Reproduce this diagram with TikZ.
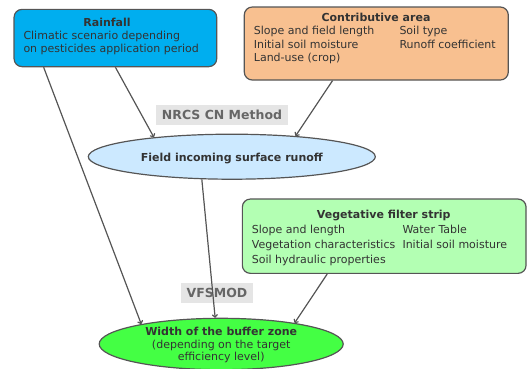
\documentclass[tikz,border=0pt]{standalone}
\usepackage{fontspec}
\setmainfont{DejaVu Sans}
\usetikzlibrary{shapes.geometric,calc,arrows.meta}
\definecolor{rainc}{RGB}{0,174,239}
\definecolor{contc}{RGB}{248,192,144}
\definecolor{vegc}{RGB}{179,255,179}
\definecolor{fieldc}{RGB}{204,233,255}
\definecolor{bufc}{RGB}{68,255,68}
\definecolor{edgec}{RGB}{85,85,85}
\definecolor{txtc}{RGB}{51,51,51}
\definecolor{lblbg}{RGB}{229,229,229}
\definecolor{lbltxt}{RGB}{102,102,102}
\tikzset{
  box/.style={draw=edgec, line width=1.2pt, rounded corners=8pt, inner sep=0pt},
  oval/.style={ellipse, draw=edgec, line width=1.2pt, inner sep=0pt},
  txt/.style={anchor=base west, inner sep=0pt, text=txtc, font=\fontsize{11}{13}\selectfont},
  ttl/.style={anchor=base, inner sep=0pt, text=txtc, font=\fontsize{11}{13}\selectfont\bfseries},
  methodlbl/.style={fill=lblbg, text=lbltxt, font=\fontsize{12.5}{15}\selectfont\bfseries, inner sep=0pt},
  conn/.style={draw=edgec, line width=1.2pt, -{To[length=3.5pt,width=6pt]}}
}
\begin{document}
\begin{tikzpicture}[x=1pt,y=-1pt]
\useasboundingbox (0,0) rectangle (527,368);
% method labels
\node[methodlbl, minimum width=132pt, minimum height=20pt] (nrcs) at (222,115) {};
\node[anchor=base, inner sep=0pt, text=lbltxt, font=\fontsize{12.5}{15}\selectfont\bfseries] (nrcst) at (222,119.5) {NRCS CN Method};
\node[methodlbl, minimum width=72pt, minimum height=20pt] (vfs) at (217,293) {};
\node[anchor=base, inner sep=0pt, text=lbltxt, font=\fontsize{12.5}{15}\selectfont\bfseries] (vfst) at (217,297.5) {VFSMOD};
% Rainfall
\node[box, fill=rainc, minimum width=202.7pt, minimum height=57.3pt] (rain) at (115.4,38) {};
\node[ttl] (raint) at (107,26) {Rainfall};
\node[txt] (rain1) at (23.3,39.3) {Climatic scenario depending};
\node[txt] (rain2) at (23.3,52.6) {on pesticides application period};
% Contributive area
\node[box, fill=contc, minimum width=264pt, minimum height=73pt] (cont) at (376.3,43.5) {};
\node[ttl] (contt) at (376,21) {Contributive area};
\node[txt] (cont1) at (253.7,34.7) {Slope and field length};
\node[txt] (cont2) at (253.7,48) {Initial soil moisture};
\node[txt] (cont3) at (253.7,61.3) {Land-use (crop)};
\node[txt] (cont4) at (399.3,34.7) {Soil type};
\node[txt] (cont5) at (399.3,48) {Runoff coefficient};
% Field ellipse
\node[oval, fill=fieldc, minimum width=287pt, minimum height=45pt] (field) at (231.8,156.7) {};
\node[ttl] (fieldt) at (231.8,161) {Field incoming surface runoff};
% Vegetative filter strip
\node[box, fill=vegc, minimum width=283.7pt, minimum height=74.3pt] (veg) at (384.2,236.2) {};
\node[ttl] (vegt) at (383.8,218) {Vegetative filter strip};
\node[txt] (veg1) at (251.7,233) {Slope and length};
\node[txt] (veg2) at (251.7,248.4) {Vegetation characteristics};
\node[txt] (veg3) at (251.7,263.7) {Soil hydraulic properties};
\node[txt] (veg4) at (402.3,233) {Water Table};
\node[txt] (veg5) at (402.3,248.4) {Initial soil moisture};
% Buffer zone ellipse
\node[oval, fill=bufc, minimum width=244pt, minimum height=51.4pt] (buf) at (221.2,344) {};
\node[ttl] (buft) at (221.2,335) {Width of the buffer zone};
\node[anchor=base, inner sep=0pt, text=txtc, font=\fontsize{11}{13}\selectfont] (buf1) at (221.2,348.3) {(depending on the target};
\node[anchor=base, inner sep=0pt, text=txtc, font=\fontsize{11}{13}\selectfont] (buf2) at (221.2,360.7) {efficiency level)};
% connectors
\draw[conn] ($(rain.south west)!0.148!(rain.south east)$) -- (buf.166.4);
\draw[conn] (rain.south) -- (field.166.4);
\draw[conn] ($(cont.south west)!0.335!(cont.south east)$) -- (field.18.6);
\draw[conn] (field.217.4) -- (buf.103.4);
\draw[conn] ($(veg.south west)!0.3!(veg.south east)$) -- (buf.16.4);
\end{tikzpicture}
\end{document}
